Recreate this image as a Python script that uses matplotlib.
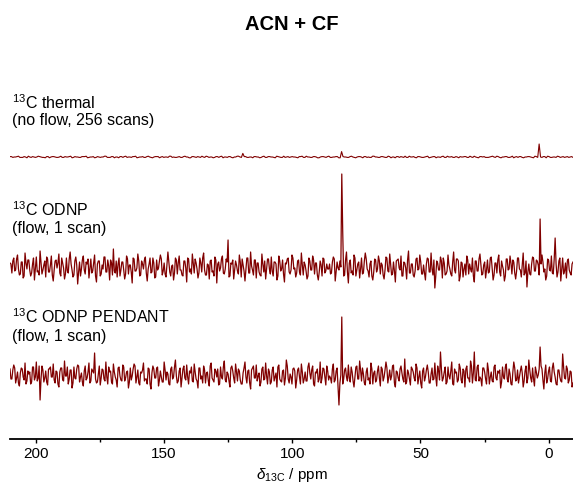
import numpy as np
import matplotlib
matplotlib.use("Agg")
import matplotlib.pyplot as plt
from matplotlib.ticker import MultipleLocator

plt.rcParams['font.family'] = ['Liberation Sans', 'DejaVu Sans']
plt.rcParams['mathtext.fontset'] = 'custom'
plt.rcParams['mathtext.rm'] = 'Liberation Sans'
plt.rcParams['mathtext.it'] = 'Liberation Sans:italic'

# ppm window of the spectra
ppm_left = 210.0
ppm_right = -9.5

# thermal spectrum: baseline noise (even / odd points) and peaks
thermal_noise_a = [
    1, -1, 0, 2, -1, 1, -2, 0, 1, -1, 2, 0, -1, 1, -2, 1, 0, -1, 2, -1,
    0, 1, -2, 1, 0, -1, 1, 2, -1, 0, -2, 1, -1, 0, 2, -1, 1, -2, 0, 1,
    -1, 2, 0, -1, 1, -2, 0, 1, -1, 2, -1, 0, 1, -2, 1, 0, -1, 2, 0, -1,
    1, -1, 2, 0, -2, 1, -1, 0, 2, -1, 1, 0, -2, 1, -1, 2, 0, -1, 1, -2,
    0, 2, -1, 1, -1, 0, -2, 1, 0, -1, 2, -1, 1, 0, -2, 1, -1, 2, 0, -1,
    1, 0, -2, 1, -1, 2, 0, -1, 1, -2, 0, 1, -1, 2, -1, 0, 1, -2, 1, 0,
    -1, 2, -1, 0, 1, -2, 1, 0, -1, 2, 0, -1, 1, -1, 2, -2, 0, 1, -1, 0,
    2, -1, 0, 1, -2, 1, -1, 0, 2, -1, 1, -2, 0, 1, -1, 2, 0, -1, 1, -2,
    0, 1, -1, 2, -1, 0, -2, 1, 1, -1, 0, 2, -1, 1, -2, 0, 1, -1, 2, 0,
    -1, 1, -2, 0, 1, -1, 2, -1, 0, 1, -2, 1, -1, 0, 2, -1, 1, 0, -1, 1,
]
thermal_noise_b = [
    1, 0, 1, -1, -1, 0, 2, -1, 0, 0, 1, -1, -2, 1, 0, 1, -1, 0, -1, 1,
    0, 2, -1, 0, -1, 1, 1, -2, 0, 1, -1, 0, 0, 2, -1, -1, 1, 0, -2, 1,
    1, -1, 0, 1, 2, -1, 0, -1, 1, 0, -2, 1, 1, 0, -1, 0, 2, -1, -1, 0,
    -1, 1, 0, -2, 1, 0, 1, -1, 0, 2, -1, 0, -1, 1, 1, -2, 0, 1, -1, 0,
    2, 0, -1, 1, -1, 0, 1, 0, -2, 1, -1, 1, 0, -1, 2, 0, -1, -1, 1, 0,
    0, -1, 1, 2, -1, 0, -1, 1, 0, -2, 1, 0, 1, -1, 0, 1, -2, 1, 0, -1,
    1, 0, -2, 1, 0, 1, -1, -1, 2, 0, -1, 1, 0, -1, 1, 0, -2, 1, 1, -1,
    -1, 2, 0, -1, 1, 0, -1, 1, -2, 0, 1, 0, -1, 2, -1, 0, 1, -1, 0, 1,
    0, 1, -1, 0, 2, -1, 1, 0, -1, -1, 1, 0, 2, -1, 0, 1, -1, 0, -2, 1,
    1, -1, 0, 1, 0, -2, 1, 0, -1, 1, 2, -1, 0, -1, 1, 0, -1, 1, 0, -1,
]
thermal_peak_ppm = [119.0, 80.5, 3.5]
thermal_peak_amp = [4, 5, 13]

# ODNP spectrum (flow, 1 scan)
odnp_noise_a = [
    4, -6, 9, -3, 12, -8, 5, -11, 14, -2, 7, -9, 3, -13, 10, -4, 16, -7, 2, -10,
    8, -5, 11, -14, 6, -1, 13, -9, 4, -12, 9, -6, 15, -3, -8, 10, -17, 5, -2, 11,
    -7, 3, -11, 8, -4, 12, -15, 6, -9, 2, 10, -5, 7, -13, 4, 18, -6, -10, 9, -3,
    5, -12, 11, -7, 2, -16, 8, -4, 13, -9, 6, -2, 10, -14, 3, -6, 9, -11, 7, -1,
    12, -8, 4, -10, 15, -5, 1, -13, 9, -7, 11, -3, -9, 6, -15, 8, -2, 13, -6, 4,
    -11, 9, -5, 14, -8, 3, -12, 7, -4, 10, -16, 5, -1, 11, -7, 8, 27, -9, 3, -12,
    6, -4, 12, -10, 2, -14, 9, -6, 15, -3, 7, -11, 4, -8, 13, -5, -12, 8, -2, 10,
    -9, 5, -13, 11, -4, 7, -15, 3, 9, -7, 12, -2, -10, 6, -5, 14, -8, 2, -12, 9,
    -3, 11, -7, 4, -13, 6, -9, 8, -4, -2, 3, -6, 10, -14, 5, -3, 0, 0, -8, 15,
    -16, 7, -4, 12, -9, 3, -11, 9, -6, 14, -2, -10, 6, -13, 8, -5, 11, -7, 2, -12,
    10, -4, 13, -8, 5, -15, 7, -1, 11, -9, 4, -12, 16, -6, 3, -10, 8, -3, 12, -7,
    2, -13, 9, -5, 14, -8, -21, 6, -3, 10, -11, 4, -7, 12, -2, -9, 15, -6, 8, -14,
    5, -10, 3, 11, -7, -2, 9, -15, 6, -4, 13, -8, 2, -11, 7, -5, 10, -13, 4, -6,
    12, -9, 1, -14, 8, -3, 11, -7, 5, -12, 9, -2, -10, 14, -6, -20, 3, -8, 10, -4,
    7, 2, -9, 12, -5, -13, 8, -3, 11, -7, 29, -10, 6, -14, 9, -4, -11, 8, -6, 3,
]
odnp_noise_b = [
    3, 6, -4, 8, -2, -7, 5, -9, 4, 7, -3, -6, 9, -2, -5, -8, 4, -3, 6, 10,
    -5, 2, -8, -3, 7, 4, -6, 9, -1, -7, -4, 8, 3, -10, 6, 2, -5, -9, 7, -3,
    5, 8, -2, -6, 4, -9, 3, 6, -7, -2, 10, -5, 1, 7, -8, -4, 6, 3, -9, 5,
    -3, -7, 8, 2, -5, 9, -4, -1, 6, -8, 3, 7, -6, -2, 9, -5, 4, -10, -3, 6,
    8, -4, -7, 3, 5, -9, 2, -6, 7, 4, -3, -8, 6, -1, 9, -5, -7, 3, 8, -2,
    -6, 4, 9, -3, -8, 2, 6, -5, -9, 7, 3, -4, 8, -6, -2, 5, -10, 4, 7, -3,
    2, -7, 5, 8, -4, -3, 9, -6, 1, -8, 7, 4, -5, -9, 3, 6, -2, 8, -7, -4,
    5, 3, -9, 6, -2, -7, 4, 8, -5, -3, 9, -1, -6, 7, -8, 2, 5, -4, -9, 6,
    -3, 7, 4, -8, -5, 2, 9, -6, 3, -2, -7, 5, 8, -4, -1, 6, 3, -9, 7, -5,
    4, -6, -8, 9, -3, 5, -2, -7, 6, 8, -4, 3, -9, -5, 7, -2, 6, 4, -8, -3,
    9, -5, 2, -7, -4, 6, 8, -3, -9, 5, -1, 7, -6, 3, -8, -4, 9, -2, 5, -7,
    -6, 3, 8, -5, -2, 7, -9, 4, -3, 6, 9, -8, -4, 2, -7, 5, -3, 8, 6, -9,
    4, -2, -8, 7, 3, -5, -9, 6, -4, 8, 2, -7, 5, -3, -6, 9, -1, -8, 4, 7,
    -5, 6, -3, -9, 8, -2, 4, 7, -6, -4, 9, -3, 2, -8, 6, -5, -7, 3, 9, -4,
    6, -8, 3, 5, -2, -9, 7, -4, -6, 8, 3, -5, 9, -2, -7, 4, 6, -3, -8, 5,
]
odnp_peak_ppm = [80.5, 80.1, 3.5]
odnp_peak_amp = [90, 35, 57]

# ODNP PENDANT spectrum (flow, 1 scan)
pendant_noise_a = [
    6, -4, 10, -8, 3, -11, 7, -2, 12, -6, 1, -9, 8, -5, 13, -3, -25, 9, -7, 4,
    -10, 6, -2, 11, -8, 3, -12, 7, -5, 14, -1, -9, 5, -13, 8, -4, 10, -7, 2, -11,
    9, -3, 12, -6, 4, 22, -8, 1, -10, 6, -4, 13, -9, 3, -7, 11, -2, -12, 8, -5,
    10, -6, 3, -13, 7, -1, 11, -8, 5, -10, 2, 12, -4, -9, 6, -14, 9, -3, 7, -11,
    4, -7, 13, -5, 1, -10, 8, -2, 15, -8, 4, -12, 6, -3, 10, -9, 2, -6, 11, -4,
    -13, 7, -1, 9, -8, 3, -11, 12, -5, 6, -2, -10, 8, -4, 14, -7, 1, -12, 9, -3,
    11, -6, 4, -9, 2, 13, -8, 5, -14, 7, -3, 10, -1, -11, 6, -5, 12, -9, 3, -7,
    8, -2, -12, 10, -6, 4, -10, 15, -4, 1, -9, 7, -13, 5, -2, 11, -8, 3, -6, 12,
    -4, 9, -11, 2, -7, 13, -3, 6, -10, 4, -1, -8, 11, -5, 7, -30, 0, -9, 5, -2,
    10, -7, 3, -12, 8, -4, 14, -6, 1, -10, 7, -3, 12, -9, 4, -5, 9, -11, 6, -2,
    13, -8, 5, -1, 10, -12, 3, -6, 9, -4, 16, -7, 2, -10, 6, -3, 11, -9, 4, -13,
    7, -2, 10, -8, 1, -5, 12, -11, 4, 23, -6, 3, -9, 8, -4, 13, -10, 2, -7, 11,
    -5, 6, -12, 9, -3, 14, -8, 23, -6, 10, -2, -11, 7, -4, 12, -9, 3, -7, 10, -5,
    2, -13, 8, -4, 11, -7, 1, -10, 13, -6, 5, -2, 9, -12, 4, -8, 15, -3, 7, -11,
    3, 0, -9, 6, -14, 10, -4, 8, -7, 12, -2, -10, 5, -6, 21, -3, 9, -8, 4, -12,
]
pendant_noise_b = [
    -4, 5, 7, -3, -8, 2, 6, -5, -9, 4, 3, -7, 8, -2, -6, 9, -4, 5, -3, -7,
    6, 8, -2, -5, 4, -9, 3, 7, -6, -1, 8, -4, 5, -8, -3, 6, 9, -2, -7, 4,
    -5, 3, -8, 6, 2, -4, -7, 9, -3, 5, -6, -2, 8, 4, -9, 3, -5, 7, -1, -6,
    8, -3, 4, -7, -5, 6, 9, -2, -8, 3, 5, -6, -4, 7, -9, 2, 6, -3, 8, -5,
    -2, -7, 5, 3, -9, 6, -4, 8, -1, -6, 7, -3, 9, -5, -2, 4, 8, -7, 3, -6,
    7, -4, -8, 5, 2, -6, 9, -3, -7, 4, 6, -9, -2, 8, -5, 3, -6, 7, 4, -8,
    3, 6, -5, -9, 7, -2, 4, -8, 5, 9, -3, -6, 2, -7, 8, -4, -1, 6, -9, 5,
    -6, 2, 8, -4, -7, 5, -3, 9, -8, -2, 6, 4, -5, 7, -9, 3, -4, -6, 8, 2,
    5, -9, 3, 6, -4, -8, 7, -2, 9, -5, -3, 6, -7, 4, -12, -8, 3, -4, 7, -6,
    -3, 8, -6, -2, 9, -4, 5, 7, -8, 3, -5, -9, 6, 2, -7, 4, -3, 8, -6, 5,
    7, -2, -5, 9, -8, 4, -3, 6, 2, -7, -9, 5, -4, 8, 3, -6, 7, -2, -8, 4,
    -6, 5, 3, -8, 7, -4, -2, 9, -5, 6, -3, 8, -7, -1, 4, -9, 6, 3, -5, 7,
    -8, 4, 6, -3, -7, 9, 2, -5, 8, -6, -4, 7, 3, -9, 5, -2, -6, 8, -3, 4,
    5, -7, -2, 8, -4, 6, -9, 3, 7, -5, -8, 4, 2, -6, 9, -3, 5, -7, -4, 8,
    -3, 6, 9, -5, 2, -8, 4, -6, 7, 3, -9, 5, -2, -7, 8, -4, 6, -5, 3, -8,
]
pendant_peak_ppm = [80.5, 3.5]
pendant_peak_amp = [55, 37]

# vertical offsets of the stacked traces
offsets = {'thermal': 282, 'odnp': 172, 'pendant': 64}

labels = [
    (r'$^{\rm 13}$C thermal', '(no flow, 256 scans)', 336, 318),
    (r'$^{\rm 13}$C ODNP', '(flow, 1 scan)', 229, 210),
    (r'$^{\rm 13}$C ODNP PENDANT', '(flow, 1 scan)', 122, 102),
]

color = '#800000'


def build(noise_a, noise_b, scale, peak_ppm, peak_amp, offset):
    # even points from noise_a, odd points from noise_b
    y = np.empty(len(noise_a) + len(noise_b))
    y[0::2] = noise_a
    y[1::2] = noise_b
    y = y * scale
    x = np.linspace(ppm_left, ppm_right, len(y))
    for p, a in zip(peak_ppm, peak_amp):
        i = np.argmin(np.abs(x - p))
        y[i] += a
    return x, y + offset


fig = plt.figure(figsize=(5.73, 4.84), dpi=100)
ax = fig.add_axes([10 / 573, 45 / 484, 563 / 573, 379 / 484])

x, y = build(thermal_noise_a, thermal_noise_b, 0.4, thermal_peak_ppm, thermal_peak_amp, offsets['thermal'])
ax.plot(x, y, color=color, lw=0.8)
x, y = build(odnp_noise_a, odnp_noise_b, 1.0, odnp_peak_ppm, odnp_peak_amp, offsets['odnp'])
ax.plot(x, y, color=color, lw=0.9)
x, y = build(pendant_noise_a, pendant_noise_b, 1.0, pendant_peak_ppm, pendant_peak_amp, offsets['pendant'])
ax.plot(x, y, color=color, lw=0.9)

ax.set_xlim(ppm_left, ppm_right)
ax.set_ylim(0, 379)

trans = ax.get_yaxis_transform()
for l1, l2, y1, y2 in labels:
    ax.text(0.004, y1, l1, transform=trans, fontsize=11.5, va='center', ha='left')
    ax.text(0.004, y2, l2, transform=trans, fontsize=11.5, va='center', ha='left')

for s in ['top', 'left', 'right']:
    ax.spines[s].set_visible(False)
ax.spines['bottom'].set_linewidth(1.3)
ax.set_yticks([])
ax.xaxis.set_major_locator(MultipleLocator(50))
ax.xaxis.set_minor_locator(MultipleLocator(25))
ax.tick_params(axis='x', which='major', length=3, width=1, labelsize=11, pad=3)
ax.tick_params(axis='x', which='minor', length=2, width=1)
ax.set_xlabel(r'$\delta_{\rm 13C}$ / ppm', fontsize=11, labelpad=3)

fig.text(0.51, 1 - 24 / 484, 'ACN + CF', fontsize=14.5, fontweight='bold',
         ha='center', va='center')

fig.savefig('out.png', dpi=100)
